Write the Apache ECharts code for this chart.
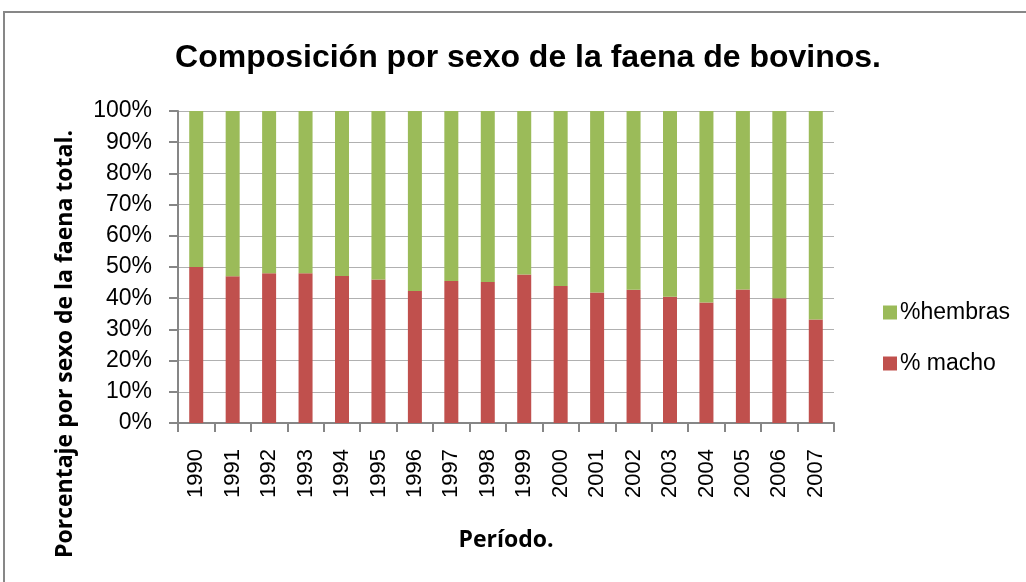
<!DOCTYPE html>
<html lang="es">
<head>
    <meta charset="UTF-8">
    <title>Composición por sexo de la faena de bovinos</title>
    <script src="https://cdn.jsdelivr.net/npm/echarts@6/dist/echarts.min.js"></script>
    <style>
        html, body { margin: 0; padding: 0; background: #fff; }
    </style>
</head>
<body>
    <div id="main" style="width: 1026px;height:582px;"></div>
    <script>
        // años del período
        const years = ['1990', '1991', '1992', '1993', '1994', '1995', '1996', '1997', '1998',
                       '1999', '2000', '2001', '2002', '2003', '2004', '2005', '2006', '2007'];
        // % macho
        const macho = [50.0, 47.0, 48.0, 48.0, 47.1, 46.0, 42.3, 45.5, 45.2,
                       47.6, 43.9, 41.8, 42.7, 40.5, 38.6, 42.8, 40.0, 33.2];
        // % hembras = resto hasta 100
        const hembras = [50.0, 53.0, 52.0, 52.0, 52.9, 54.0, 57.7, 54.5, 54.8,
                         52.4, 56.1, 58.2, 57.3, 59.5, 61.4, 57.2, 60.0, 66.8];
        const yTicks = [0, 10, 20, 30, 40, 50, 60, 70, 80, 90, 100];

        const sans = "'Liberation Sans', Arial, sans-serif";
        const bold2 = "'Open Sans', 'Noto Sans', sans-serif";

        var chart = echarts.init(document.getElementById('main'));
        var option = {
            backgroundColor: '#fff',
            animation: false,
            title: {
                text: 'Composición por sexo de la faena de bovinos.',
                left: 523,
                textAlign: 'center',
                top: 37,
                textStyle: {
                    fontFamily: sans,
                    fontWeight: 'bold',
                    fontSize: 32,
                    color: '#000'
                }
            },
            graphic: [
                {
                    type: 'rect',
                    shape: { x: 4, y: 12, width: 1040, height: 600 },
                    style: { fill: 'none', stroke: '#878787', lineWidth: 2 },
                    silent: true
                },
                {
                    type: 'text',
                    x: 65,
                    y: 344,
                    rotation: Math.PI / 2,
                    style: {
                        text: 'Porcentaje por sexo de la faena total.',
                        fontFamily: bold2,
                        fontWeight: 'bold',
                        fontSize: 23,
                        fill: '#000',
                        align: 'center',
                        verticalAlign: 'middle'
                    }
                }
            ],
            legend: {
                orient: 'vertical',
                left: 878,
                top: 296,
                itemWidth: 14,
                itemHeight: 14,
                itemGap: 28,
                icon: 'rect',
                data: ['%hembras', '% macho'],
                textStyle: { fontFamily: sans, fontSize: 23, color: '#000', padding: [0, 0, 0, -2] }
            },
            grid: {
                left: 178,
                right: 192,
                top: 111,
                bottom: 159
            },
            xAxis: {
                type: 'category',
                data: years,
                name: 'Período.',
                nameLocation: 'middle',
                nameGap: 106,
                nameTextStyle: { fontFamily: bold2, fontWeight: 'bold', fontSize: 23, color: '#000' },
                axisLine: { lineStyle: { color: '#868686', width: 2 } },
                axisTick: { show: true, length: 9, lineStyle: { color: '#868686', width: 2 } },
                axisLabel: {
                    rotate: 90,
                    margin: 26,
                    interval: 0,
                    fontFamily: sans,
                    fontSize: 22,
                    color: '#000'
                },
                splitLine: { show: false }
            },
            yAxis: {
                type: 'value',
                min: yTicks[0],
                max: yTicks[yTicks.length - 1],
                interval: 10,
                axisLine: { show: true, lineStyle: { color: '#868686', width: 2 } },
                axisTick: { show: true, length: 9, lineStyle: { color: '#868686', width: 2 } },
                axisLabel: {
                    margin: 26,
                    formatter: '{value}%',
                    fontFamily: sans,
                    fontSize: 23,
                    color: '#000'
                },
                splitLine: { show: true, lineStyle: { color: '#b0b0b0', width: 1 } }
            },
            series: [
                {
                    name: '% macho',
                    type: 'bar',
                    stack: 'total',
                    barWidth: 14,
                    data: macho,
                    itemStyle: { color: '#C0504D' }
                },
                {
                    name: '%hembras',
                    type: 'bar',
                    stack: 'total',
                    barWidth: 14,
                    data: hembras,
                    itemStyle: { color: '#9BBB59' }
                }
            ]
        };

        chart.setOption(option);
    </script>
</body>
</html>
